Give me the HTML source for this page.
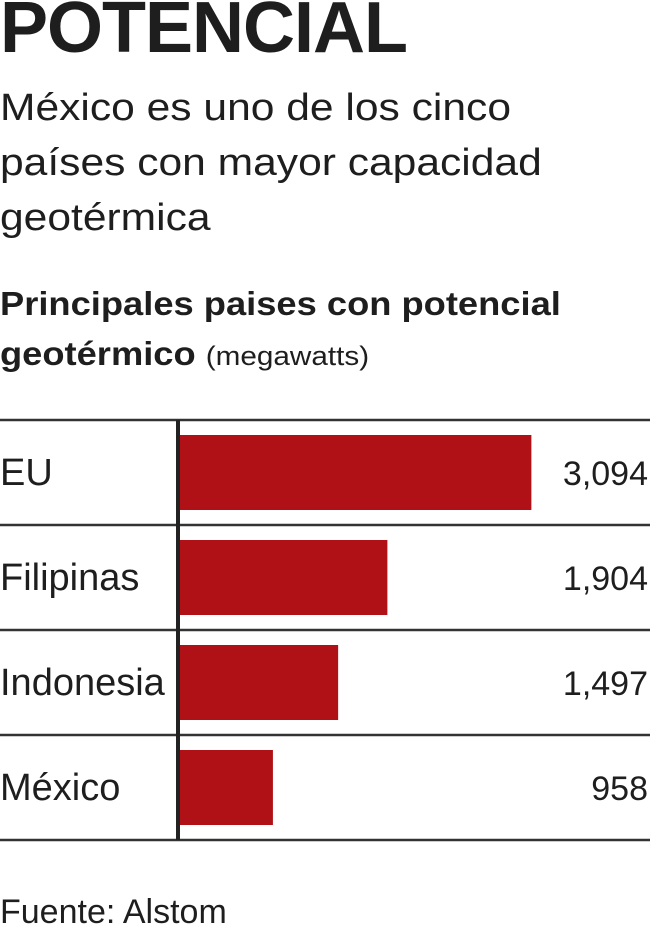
<!DOCTYPE html>
<html><head><meta charset="utf-8"><style>
body{margin:0;width:650px;height:928px;background:#fff;font-family:"Liberation Sans",sans-serif;color:#1e1e1e;position:relative;overflow:hidden}
.t{position:absolute;left:0;white-space:nowrap;transform-origin:left top}
</style></head><body>
<div class="t" style="top:-13px;font-size:72px;font-weight:bold;letter-spacing:-1px">POTENCIAL</div>
<div class="t" style="top:81px;font-size:38px;line-height:55px;transform:scaleX(1.12)">México es uno de los cinco<br>países con mayor capacidad<br>geotérmica</div>
<div class="t" style="top:279px;font-size:33px;line-height:50px;font-weight:bold;transform:scaleX(1.1)">Principales paises con potencial<br>geotérmico <span style="font-weight:normal;font-size:27px">(megawatts)</span></div>
<svg id="chart" width="650" height="928" style="position:absolute;left:0;top:0"></svg>
<div class="t" style="top:893px;font-size:34px">Fuente: Alstom</div>
<script>
const categories=["EU","Filipinas","Indonesia","México"];
const values=[3094,1904,1497,958];
const labels=["3,094","1,904","1,497","958"];
const svg=document.getElementById('chart');
const NS="http://www.w3.org/2000/svg";
const x0=157,k=0.121,axisX=178,top0=420,rowH=105;
function xs(v){return x0+v*k;}
function mk(t,a){const e=document.createElementNS(NS,t);for(const n in a)e.setAttribute(n,a[n]);svg.appendChild(e);return e;}
for(let i=0;i<=categories.length;i++){
  const l=mk('line',{x1:0,x2:650,y1:top0+i*rowH,y2:top0+i*rowH,stroke:'#333','stroke-width':2.5});
  
  
}
categories.forEach((c,i)=>{
  const y=top0+i*rowH;
  const r=mk('rect',{x:axisX+2,y:y+15,width:xs(values[i])-axisX-2,height:75,fill:'#b01116'});
  
  
  const t=mk('text',{x:0,y:y+65,'font-size':38,fill:'#1e1e1e','font-family':'Liberation Sans, sans-serif'});
  t.textContent=c;
  
  
  const v=mk('text',{x:648,y:y+65,'font-size':34,fill:'#1e1e1e','text-anchor':'end','font-family':'Liberation Sans, sans-serif'});
  v.textContent=labels[i];
  
  
});
const ax=mk('line',{x1:axisX,x2:axisX,y1:top0,y2:top0+rowH*categories.length,stroke:'#222','stroke-width':4});


</script>
</body></html>
